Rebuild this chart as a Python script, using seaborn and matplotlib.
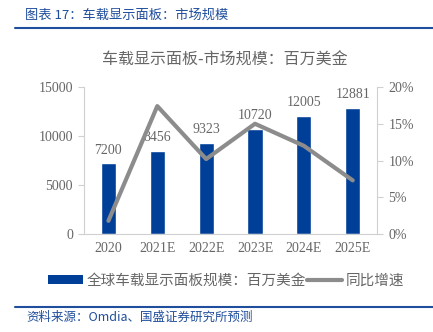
import matplotlib
matplotlib.use("Agg")
import matplotlib.pyplot as plt
import seaborn as sns
import numpy as np
import pandas as pd
from matplotlib.lines import Line2D
from matplotlib.patches import Patch
from matplotlib.ticker import FuncFormatter

sns.set_style("white")
plt.rcParams['font.family'] = ['Noto Sans CJK SC', 'DejaVu Sans']

years = ["2020", "2021E", "2022E", "2023E", "2024E", "2025E"]
market = [7200, 8456, 9323, 10720, 12005, 12881]
growth = [1.8, 17.4, 10.2, 15.0, 12.0, 7.3]

bar_label = "全球车载显示面板规模：百万美金"
line_label = "同比增速"

BLUE = "#003f98"
GREY = "#8c8c8c"
TXT = "#666666"
SERIF = ["Liberation Serif", "DejaVu Serif"]

df = pd.DataFrame({"year": years, "market": market, "growth": growth, "pos": np.arange(len(years))})

fig = plt.figure(figsize=(4.33, 3.32), dpi=100)
ax = fig.add_axes([0.194, 0.295, 0.677, 0.443])

sns.barplot(data=df, x="year", y="market", color=BLUE, width=0.31, ax=ax, saturation=1)
ax.set_xlim(-0.5, 5.5)
ax.set_ylim(0, 15000)
ax.set_yticks([0, 5000, 10000, 15000])
ax.set_xlabel("")
ax.set_ylabel("")
for i, v in enumerate(market):
    ax.text(i, v + 700, str(v), ha="center", va="bottom", fontsize=10,
            color=TXT, family=SERIF)

ax2 = ax.twinx()
sns.lineplot(data=df, x="pos", y="growth", color=GREY, linewidth=3, ax=ax2)
ax2.set_ylim(0, 20)
ax2.set_yticks([0, 5, 10, 15, 20])
ax2.yaxis.set_major_formatter(FuncFormatter(lambda v, p: f"{int(v)}%"))
ax2.set_xlim(-0.5, 5.5)
ax2.set_xlabel("")
ax2.set_ylabel("")

for a in (ax, ax2):
    for s in a.spines.values():
        s.set_visible(False)
    a.tick_params(axis="both", labelsize=10, colors=TXT, length=0)
    for lab in a.get_yticklabels() + a.get_xticklabels():
        lab.set_family(SERIF)

ax.spines["left"].set_visible(True)
ax.spines["left"].set_color("#d0d0d0")
ax.spines["bottom"].set_visible(True)
ax.spines["bottom"].set_color("#d0d0d0")
ax2.spines["right"].set_visible(True)
ax2.spines["right"].set_color("#d0d0d0")
ax.tick_params(axis="y", length=4, color="#d0d0d0", pad=4)
ax2.tick_params(axis="y", length=4, color="#d0d0d0", pad=4)
ax.tick_params(axis="x", pad=6)

fig.text(0.519, 0.82, "车载显示面板-市场规模：百万美金", ha="center", va="center",
         fontsize=11.5, color=TXT)

fig.text(0.058, 0.955, "图表 17：车载显示面板：市场规模", ha="left", va="center",
         fontsize=9.5, color="#1f4e9c", style="italic")
fig.add_artist(Line2D([0.035, 1.0], [0.915, 0.915], color="#1f4e9c", lw=1.5,
                      transform=fig.transFigure))
fig.add_artist(Line2D([0.035, 1.0], [0.075, 0.075], color="#1f4e9c", lw=1.5,
                      transform=fig.transFigure))
fig.text(0.062, 0.045, "资料来源：Omdia、国盛证券研究所预测", ha="left", va="center",
         fontsize=9, color="#1f4e9c", style="italic")

handles = [Patch(facecolor=BLUE, edgecolor="none"),
           Line2D([0], [0], color=GREY, lw=3)]
leg = fig.legend(handles, [bar_label, line_label], loc="center",
                 bbox_to_anchor=(0.522, 0.155), ncol=2, frameon=False,
                 fontsize=10.5, handlelength=2.4, handleheight=0.5,
                 columnspacing=0.1, handletextpad=0.25)
for t in leg.get_texts():
    t.set_color(TXT)

fig.savefig("out.png", dpi=100)
